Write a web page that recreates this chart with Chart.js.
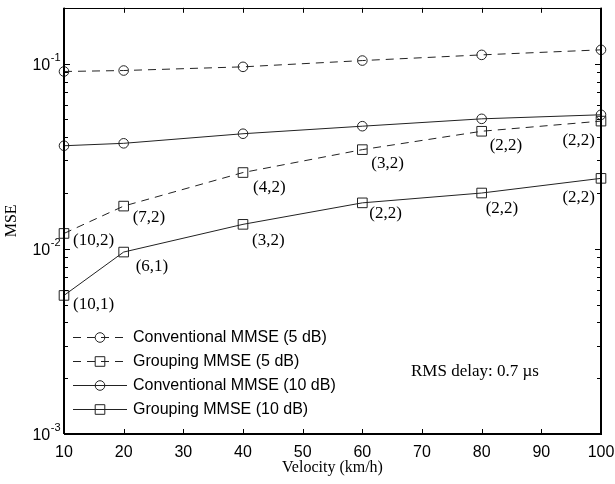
<!DOCTYPE html>
<html>
<head>
<meta charset="utf-8">
<script src="https://cdn.jsdelivr.net/npm/chart.js@4.4.1/dist/chart.umd.min.js"></script>
<style>
  html, body { margin: 0; padding: 0; background: #fff; }
  #wrap { width: 615px; height: 484px; }
</style>
</head>
<body>
<div id="wrap"><canvas id="c" width="615" height="484"></canvas></div>
<script>
const velocities = [10, 20, 40, 60, 80, 100];
const convMMSE5 = [0.0906, 0.0917, 0.0960, 0.1038, 0.1114, 0.1186];
const groupMMSE5 = [0.0121, 0.0170, 0.0258, 0.0343, 0.0431, 0.0489];
const convMMSE10 = [0.0360, 0.0371, 0.0418, 0.0459, 0.0503, 0.0529];
const groupMMSE10 = [0.0056, 0.0096, 0.01355, 0.0177, 0.0200, 0.0240];
const groupLabels5 = ['(10,2)', '(7,2)', '(4,2)', '(3,2)', '(2,2)', '(2,2)'];
const groupLabels10 = ['(10,1)', '(6,1)', '(3,2)', '(2,2)', '(2,2)', '(2,2)'];
const seriesNames = ['Conventional MMSE (5 dB)', 'Grouping MMSE (5 dB)', 'Conventional MMSE (10 dB)', 'Grouping MMSE (10 dB)'];
const xTicks = [10, 20, 30, 40, 50, 60, 70, 80, 90, 100];
const yDecades = [-3, -2, -1];
const noteText = 'RMS delay: 0.7 \u00B5s';
const xTitle = 'Velocity (km/h)';
const yTitle = 'MSE';

const SANS = '"Liberation Sans", Arial, sans-serif';
const SERIF = '"Liberation Serif", "Times New Roman", serif';
const LINE = '#222';

function pts(vals) { return velocities.map((v, i) => ({ x: v, y: vals[i] })); }

const dashes = [8, 6];
const datasets = [
  { label: seriesNames[0], data: pts(convMMSE5), borderDash: dashes, pointStyle: 'circle', pointRadius: 4.8 },
  { label: seriesNames[1], data: pts(groupMMSE5), borderDash: dashes, pointStyle: 'rect', pointRadius: 6.8 },
  { label: seriesNames[2], data: pts(convMMSE10), borderDash: [], pointStyle: 'circle', pointRadius: 4.8 },
  { label: seriesNames[3], data: pts(groupMMSE10), borderDash: [], pointStyle: 'rect', pointRadius: 6.8 }
].map(d => Object.assign(d, {
  borderColor: LINE, borderWidth: 1, backgroundColor: 'rgba(0,0,0,0)',
  pointBorderColor: LINE, pointBackgroundColor: 'rgba(0,0,0,0)', pointBorderWidth: 1,
  pointHoverRadius: d.pointRadius, tension: 0, clip: false
}));

function drawMarker(ctx, style, x, y, r) {
  ctx.beginPath();
  if (style === 'circle') {
    ctx.arc(x, y, r, 0, Math.PI * 2);
  } else {
    const s = r * Math.SQRT1_2;
    ctx.rect(x - s, y - s, 2 * s, 2 * s);
  }
  ctx.stroke();
}

const decor = {
  id: 'decor',
  afterDraw(chart) {
    const ctx = chart.ctx;
    const xs = chart.scales.x, ys = chart.scales.y;
    const ca = chart.chartArea;
    ctx.save();
    // frame
    ctx.strokeStyle = '#000';
    ctx.lineWidth = 1;
    ctx.strokeRect(Math.round(ca.left) + 0.5, Math.round(ca.top) + 0.5, Math.round(ca.right - ca.left), Math.round(ca.bottom - ca.top));
    ctx.lineWidth = 2;
    ctx.beginPath();
    ctx.moveTo(ca.left, ca.bottom); ctx.lineTo(ca.right, ca.bottom);
    ctx.moveTo(ca.right, ca.top); ctx.lineTo(ca.right, ca.bottom);
    ctx.moveTo(ca.left, ca.top); ctx.lineTo(ca.left, ca.bottom);
    ctx.stroke();
    ctx.lineWidth = 1;
    // x ticks (inward, bottom and top)
    ctx.beginPath();
    xTicks.forEach(v => {
      const px = Math.round(xs.getPixelForValue(v)) + 0.5;
      ctx.moveTo(px, ca.bottom); ctx.lineTo(px, ca.bottom - 5);
      ctx.moveTo(px, ca.top); ctx.lineTo(px, ca.top + 5);
    });
    // y ticks (major and minor, left and right)
    yDecades.forEach(e => {
      for (let m = 1; m <= 9; m++) {
        const v = m * Math.pow(10, e);
        if (v > ys.max * 1.0001) break;
        const py = Math.round(ys.getPixelForValue(v)) + 0.5;
        const len = m === 1 ? 6 : 4;
        ctx.moveTo(ca.left, py); ctx.lineTo(ca.left + len, py);
        ctx.moveTo(ca.right, py); ctx.lineTo(ca.right - len, py);
      }
    });
    ctx.stroke();
    // y tick labels with superscripts
    ctx.fillStyle = '#000';
    yDecades.forEach(e => {
      const py = ys.getPixelForValue(Math.pow(10, e));
      ctx.textBaseline = 'middle';
      ctx.textAlign = 'left';
      const sup = String(e);
      ctx.font = '11px ' + SANS;
      const sw = ctx.measureText(sup).width;
      ctx.font = '16px ' + SANS;
      const bw = ctx.measureText('10').width;
      const x0 = ca.left - 4 - sw - bw;
      ctx.fillText('10', x0, py + 2);
      ctx.font = '11px ' + SANS;
      ctx.fillText(sup, x0 + bw + 0.5, py - 6);
    });
    // axis titles
    ctx.font = '16px ' + SERIF;
    ctx.textAlign = 'center';
    ctx.textBaseline = 'middle';
    ctx.fillText(xTitle, (ca.left + ca.right) / 2, 468);
    ctx.save();
    ctx.translate(12, (ca.top + ca.bottom) / 2);
    ctx.rotate(-Math.PI / 2);
    ctx.fillText(yTitle, 0, 0);
    ctx.restore();
    // point annotations
    ctx.font = '17px ' + SERIF;
    ctx.textBaseline = 'middle';
    const off5 = [[9, 7], [9, 11], [10, 15], [9, 14], [8, 14], [-6, 19]];
    const off10 = [[9, 9], [12, 14], [9, 16], [7, 11], [4, 16], [-6, 19]];
    [[groupMMSE5, groupLabels5, off5], [groupMMSE10, groupLabels10, off10]].forEach(([vals, labs, offs]) => {
      vals.forEach((v, i) => {
        const px = xs.getPixelForValue(velocities[i]);
        const py = ys.getPixelForValue(v);
        const o = offs[i];
        ctx.textAlign = o[0] < 0 ? 'right' : 'left';
        ctx.fillText(labs[i], px + o[0], py + o[1]);
      });
    });
    // note
    ctx.textAlign = 'left';
    ctx.fillText(noteText, 411, 372);
    // legend
    const rows = [337, 361, 385, 409];
    chart.data.datasets.forEach((d, i) => {
      const y = rows[i];
      ctx.strokeStyle = LINE;
      ctx.lineWidth = 1;
      ctx.setLineDash(d.borderDash || []);
      ctx.beginPath();
      ctx.moveTo(73, y + 0.5); ctx.lineTo(127, y + 0.5);
      ctx.stroke();
      ctx.setLineDash([]);
      drawMarker(ctx, d.pointStyle, 100, y + 0.5, d.pointRadius);
      ctx.fillStyle = '#000';
      ctx.font = '16px ' + SANS;
      ctx.textAlign = 'left';
      ctx.textBaseline = 'middle';
      ctx.fillText(d.label, 133, y + 1);
    });
    ctx.restore();
  }
};

new Chart(document.getElementById('c'), {
  type: 'line',
  data: { datasets },
  options: {
    responsive: false,
    animation: false,
    devicePixelRatio: 1,
    layout: { padding: { top: 7, right: 14, left: 0, bottom: 0 } },
    plugins: { legend: { display: false }, tooltip: { enabled: false } },
    scales: {
      x: {
        type: 'linear', min: 10, max: 100,
        afterBuildTicks(s) { s.ticks = xTicks.map(v => ({ value: v })); },
        afterFit(s) { s.height = 50; s.paddingLeft = 0; s.paddingRight = 0; },
        grid: { display: false, drawTicks: false },
        border: { display: false },
        ticks: { color: '#000', font: { family: SANS, size: 16 }, padding: 9, maxRotation: 0, autoSkip: false,
          callback: v => String(v) }
      },
      y: {
        type: 'logarithmic', min: 0.001, max: 0.2,
        afterFit(s) { s.width = 64; s.paddingTop = 0; s.paddingBottom = 0; },
        grid: { display: false, drawTicks: false },
        border: { display: false },
        ticks: { display: false }
      }
    }
  },
  plugins: [decor]
});
</script>
</body>
</html>
